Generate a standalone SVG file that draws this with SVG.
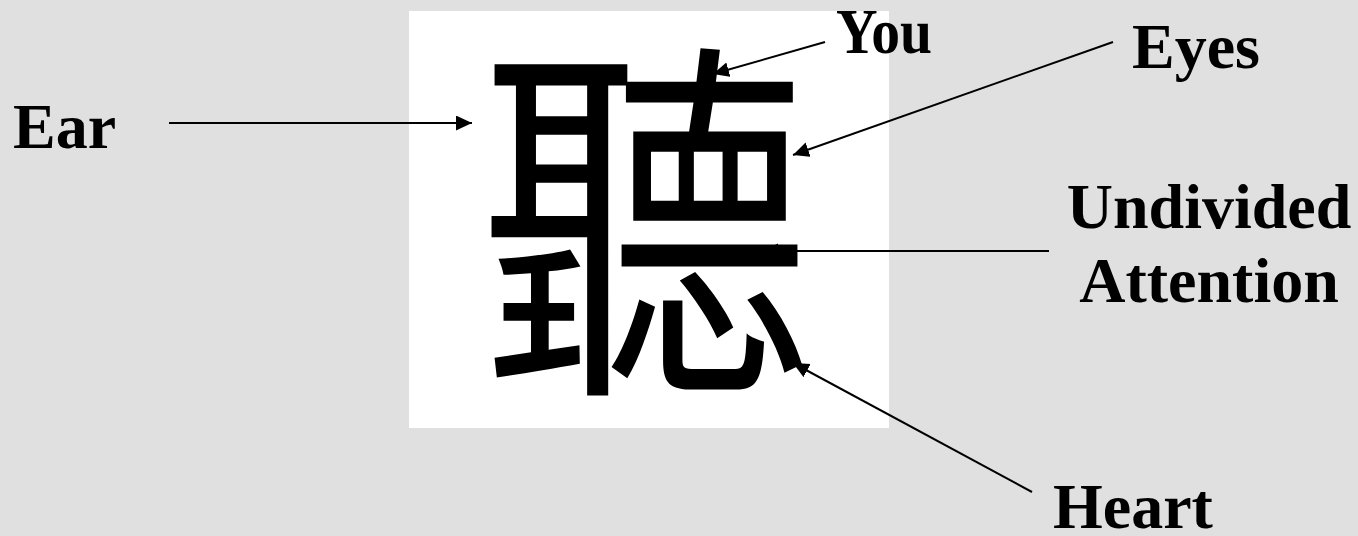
<svg xmlns="http://www.w3.org/2000/svg" width="1358" height="536" viewBox="0 0 1358 536">
  <style>
    .lbl { font-family: "Liberation Serif", "Times New Roman", serif; font-weight: bold; font-size: 64px; fill: #000; }
    .han { font-family: "Noto Sans CJK TC", "Noto Sans CJK SC", sans-serif; font-weight: 350; font-size: 380px; fill: #000; }
    .conn { stroke: #000; stroke-width: 2; fill: none; }
  </style>
  <defs>
    <marker id="arrow" markerUnits="userSpaceOnUse" markerWidth="18" markerHeight="16" refX="16" refY="7.5" orient="auto">
      <path d="M0,0 L16,7.5 L0,15 Z" fill="#000"/>
    </marker>
  </defs>
  <rect x="0" y="0" width="1358" height="536" fill="#e0e0e0"/>
  <g id="character">
    <rect x="409" y="11" width="480" height="417" fill="#ffffff"/>
    <text class="han" text-anchor="middle" transform="translate(646,366) scale(0.88,1)">聽</text>
  </g>
  <g id="ear"><text class="lbl" x="13" y="148">Ear</text></g>
  <g id="you"><text class="lbl" x="836" y="53" textLength="96" lengthAdjust="spacingAndGlyphs">You</text></g>
  <g id="eyes"><text class="lbl" x="1132" y="68">Eyes</text></g>
  <g id="attention">
    <text class="lbl" x="1209" y="228" text-anchor="middle">Undivided</text>
    <text class="lbl" x="1209" y="302" text-anchor="middle">Attention</text>
  </g>
  <g id="heart"><text class="lbl" x="1053" y="528">Heart</text></g>
  <g id="connectors">
    <line class="conn" x1="169" y1="123" x2="472" y2="123" marker-end="url(#arrow)"/>
    <line class="conn" x1="825" y1="42" x2="713" y2="74" marker-end="url(#arrow)"/>
    <line class="conn" x1="1113" y1="42" x2="793" y2="155" marker-end="url(#arrow)"/>
    <line class="conn" x1="1049" y1="251" x2="762" y2="251" marker-end="url(#arrow)"/>
    <line class="conn" x1="1032" y1="492" x2="793" y2="363" marker-end="url(#arrow)"/>
  </g>
</svg>
